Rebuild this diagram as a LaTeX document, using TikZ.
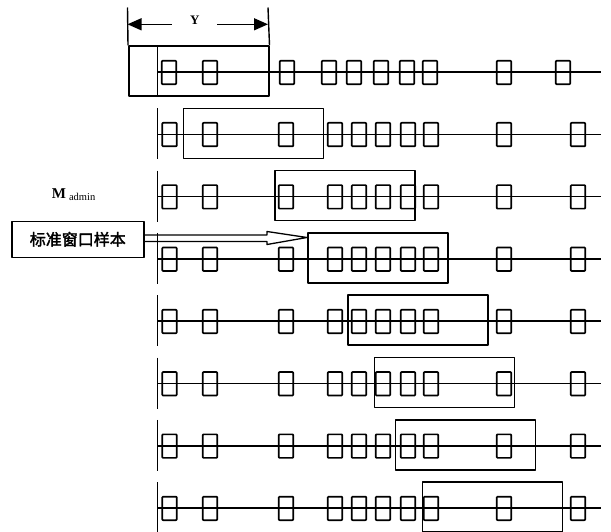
\documentclass[tikz,border=0pt]{standalone}
\usepackage{fontspec}
\setmainfont{Liberation Serif}
\newfontfamily\cjk[FakeBold=2]{Noto Sans CJK SC}
\usetikzlibrary{arrows.meta,calc}
\begin{document}
\begin{tikzpicture}[x=1pt,y=-1pt,line join=round,
  slot/.style={draw,line width=1.7pt,minimum width=14.5pt,minimum height=23.5pt,inner sep=0pt,rounded corners=0.8pt},
  win/.style={draw,line width=1.5pt,minimum width=140pt,minimum height=50pt,inner sep=0pt,anchor=west},
  track/.style={line width=1.5pt},
  bar/.style={line width=1.8pt},
  dim/.style={line width=1.4pt},
  lbl/.style={draw,line width=1.5pt,minimum width=132pt,minimum height=36pt,inner sep=0pt}]
\useasboundingbox (0,0) rectangle (611,532);

% rows: index / line y / window left x
\foreach \r/\y/\wx in {1/72/128,2/134.3/182.5,3/196.6/274,4/258.9/307,5/321.2/347,6/383.5/373.5,7/445.8/394.5,8/508.1/421.5}{
  \coordinate (a\r) at (157.5,\y);
  \coordinate (b\r) at (601,\y);
  \coordinate (bt\r) at (157.5,\y-26);
  \coordinate (bb\r) at (157.5,\y+25);
  \draw[track] (a\r) -- (b\r);
  \draw[bar] (bt\r) -- (bb\r);
  \node[win] (w\r) at (\wx,\y-1) {};
}

% slots of row 1
\foreach \k/\x in {1/169,2/210,3/287,4/329,5/354,6/381,7/407,8/430,9/504,10/563}{
  \node[slot] (s1-\k) at (\x,72.5) {};
}
% slots of rows 2-8
\foreach \r/\y in {2/134.3,3/196.6,4/258.9,5/321.2,6/383.5,7/445.8,8/508.1}{
  \foreach \k/\x in {1/169.5,2/210,3/286,4/335,5/359,6/383,7/408,8/431,9/504,10/578}{
    \node[slot] (s\r-\k) at (\x,\y+0.3) {};
  }
}

% dimension Y
\coordinate (dlt) at (127.5,7.5);
\coordinate (drt) at (268,7.5);
\coordinate (dla) at (127.5,24.3);
\coordinate (dlb) at (172,24.3);
\coordinate (dra) at (217,24.3);
\coordinate (drb) at (268,24.3);
\draw[dim] (dlt) -- (w1.north west);
\draw[dim] (drt) -- (w1.north east);
\draw[dim,{Triangle[length=14pt,width=12pt]}-] (dla) -- (dlb);
\draw[dim,-{Triangle[length=14pt,width=12pt]}] (dra) -- (drb);
\node[font=\fontsize{13}{13}\selectfont\bfseries,inner sep=0pt] (ylab) at (194.7,20.5) {Y};

% M admin
\node[anchor=base west,inner sep=0pt] (mlab) at (51.7,198.3)
  {{\fontsize{15}{15}\selectfont\bfseries M}\hspace{3pt}\raisebox{-2pt}{\fontsize{10.5}{10.5}\selectfont admin}};

% standard window sample label
\node[lbl] (lab) at (77.8,239.3) {\cjk\fontsize{16}{16}\selectfont 标准窗口样本};

% hollow arrow
\coordinate (tip) at (307,237.5);
\coordinate (h1) at (267,235);
\coordinate (h2) at (267,231.5);
\coordinate (h3) at (267,244.5);
\coordinate (h4) at (267,241.5);
\draw[line width=1.3pt] ($(lab.east)+(0,-4.3)$) -- (h1) -- (h2) -- (tip) -- (h3) -- (h4) -- ($(lab.east)+(0,2.2)$);
\end{tikzpicture}
\end{document}
